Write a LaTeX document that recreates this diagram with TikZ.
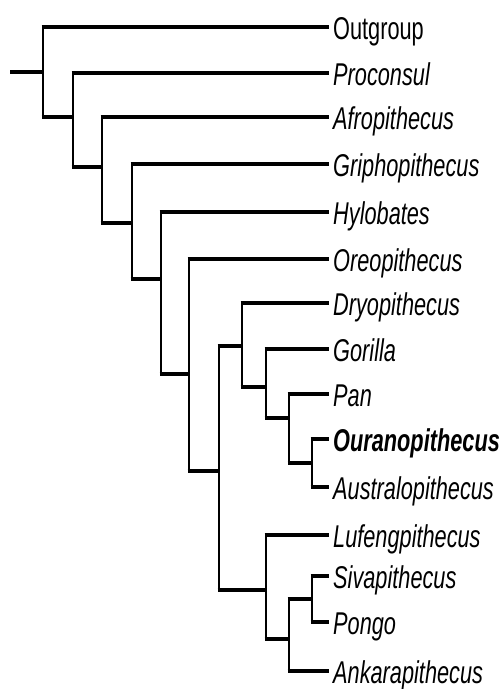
\documentclass[tikz,border=0pt]{standalone}
\usepackage{fontspec}
\setmainfont{Liberation Sans}[FakeStretch=0.69]
\usepackage{tikz}
\usetikzlibrary{positioning}

\begin{document}
\begin{tikzpicture}[
    x=1pt, y=-1pt,
    vbranch/.style={line width=2.6pt, line cap=rect},
    hbranch/.style={line width=3.8pt},
    taxon/.style={anchor=base west, inner sep=0pt, xshift=4pt, yshift=-12pt, font=\fontsize{31.5}{34}\selectfont\itshape}
]
\useasboundingbox (0,0) rectangle (504,689);

\foreach \n/\y in {og/27, pro/73, afr/117, gri/164, hyl/212, ore/259, dry/303, gor/349,
                   pan/394, our/439, aus/487, luf/535, siv/576, pon/622, ank/671}
    \coordinate (\n) at (329,\y);

\coordinate (base) at (10,72);
\coordinate (n0) at (43,72);
\coordinate (n1) at (73,117);
\coordinate (n2) at (102,167);
\coordinate (n3) at (132,223);
\coordinate (n4) at (161,279);
\coordinate (n5) at (189,374);
\coordinate (n6) at (219,471);
\coordinate (n7) at (242,346);
\coordinate (n8) at (266,387);
\coordinate (n9) at (289,418);
\coordinate (n10) at (312,463);
\coordinate (n11) at (266,590);
\coordinate (n12) at (289,639);
\coordinate (n13) at (312,599);

\node[taxon] (ogL) at (og) {\upshape Outgroup};
\node[taxon] (proL) at (pro) {Proconsul};
\node[taxon] (afrL) at (afr) {Afropithecus};
\node[taxon] (griL) at (gri) {Griphopithecus};
\node[taxon] (hylL) at (hyl) {Hylobates};
\node[taxon] (oreL) at (ore) {Oreopithecus};
\node[taxon] (dryL) at (dry) {Dryopithecus};
\node[taxon] (gorL) at (gor) {Gorilla};
\node[taxon] (panL) at (pan) {Pan};
\node[taxon] (ourL) at (our) {\bfseries Ouranopithecus};
\node[taxon] (ausL) at (aus) {Australopithecus};
\node[taxon] (lufL) at (luf) {Lufengpithecus};
\node[taxon] (sivL) at (siv) {Sivapithecus};
\node[taxon] (ponL) at (pon) {Pongo};
\node[taxon] (ankL) at (ank) {Ankarapithecus};

\draw[hbranch] (base) -- (n0);
\foreach \p/\c in {n0/og, n0/n1, n1/pro, n1/n2, n2/afr, n2/n3, n3/gri, n3/n4,
                   n4/hyl, n4/n5, n5/ore, n5/n6, n6/n7, n6/n11, n7/dry, n7/n8,
                   n8/gor, n8/n9, n9/pan, n9/n10, n10/our, n10/aus,
                   n11/luf, n11/n12, n12/n13, n12/ank, n13/siv, n13/pon}
{
    \draw[vbranch] (\p) -- (\p |- \c);
    \draw[hbranch] ([xshift=-1.3pt]\p |- \c) -- (\c);
}
\end{tikzpicture}
\end{document}
